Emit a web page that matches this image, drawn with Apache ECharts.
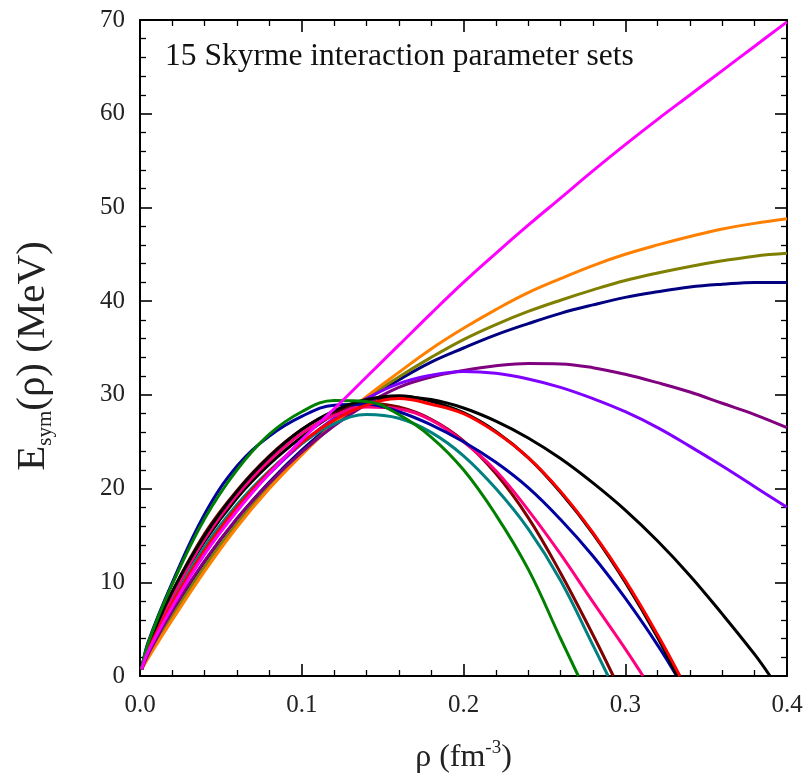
<!DOCTYPE html>
<html>
<head>
<meta charset="utf-8">
<script src="https://cdn.jsdelivr.net/npm/echarts@6/dist/echarts.min.js"></script>
<style>
html,body{margin:0;padding:0;background:#fff;overflow:hidden;}
#chart{width:807px;height:782px;}
</style>
</head>
<body>
<div id="chart"></div>
<script>
// density grid (fm^-3)
const rho = [0.001, 0.005, 0.02, 0.04, 0.06, 0.08, 0.10, 0.12, 0.14, 0.16, 0.18, 0.20, 0.22, 0.24, 0.26, 0.28, 0.30, 0.32, 0.34, 0.36, 0.38, 0.40];

// Esym values (MeV) on the rho grid; curves that fall to zero end at their zero crossing
const magenta = [0.7, 2.6, 7.4, 13.0, 17.6, 21.6, 25.2, 28.5, 31.9, 35.3, 38.7, 42.0, 45.1, 48.1, 51.0, 53.9, 56.7, 59.4, 62.0, 64.6, 67.2, 69.8];
const orange  = [0.7, 1.9, 6.0, 11.2, 15.9, 20.0, 23.6, 26.9, 29.8, 32.4, 34.9, 37.1, 39.1, 40.9, 42.4, 43.8, 45.0, 46.0, 46.9, 47.7, 48.3, 48.8];
const olive   = [0.7, 2.1, 6.4, 11.7, 16.3, 20.3, 23.8, 26.9, 29.6, 31.9, 34.0, 35.9, 37.5, 38.9, 40.1, 41.2, 42.2, 43.0, 43.7, 44.3, 44.8, 45.1];
const navy    = [0.7, 2.2, 6.8, 12.2, 16.8, 20.7, 24.1, 27.0, 29.5, 31.6, 33.5, 35.0, 36.4, 37.6, 38.7, 39.6, 40.4, 41.0, 41.5, 41.8, 42.0, 42.0];
const purple  = [0.7, 2.3, 7.0, 12.3, 16.8, 20.6, 23.9, 26.7, 29.0, 30.8, 31.9, 32.6, 33.1, 33.35, 33.3, 32.9, 32.2, 31.3, 30.3, 29.1, 27.9, 26.5];
const violet  = [0.7, 2.7, 7.8, 13.3, 17.9, 21.6, 24.8, 27.5, 29.6, 31.2, 32.1, 32.5, 32.3, 31.7, 30.8, 29.6, 28.2, 26.5, 24.5, 22.4, 20.2, 18.0];
const black1  = [0.7, 3.0, 8.6, 14.4, 19.0, 22.6, 25.5, 27.9, 29.3, 29.8, 29.5, 28.6, 27.2, 25.4, 23.2, 20.6, 17.7, 14.4, 10.7, 6.6, 2.3];
const black2  = [0.7, 3.2, 9.0, 15.0, 19.7, 23.4, 26.3, 28.3, 29.5, 29.9, 29.3, 28.1, 26.1, 23.3, 19.6, 15.2, 10.0, 4.1];
const red     = [0.7, 2.8, 7.8, 13.4, 18.0, 21.8, 24.9, 27.3, 28.9, 29.6, 29.0, 28.0, 26.0, 23.3, 19.7, 15.3, 10.2, 4.4];
const blue    = [0.7, 3.6, 10.0, 17.3, 22.4, 25.6, 27.7, 28.9, 29.0, 28.2, 26.8, 25.0, 22.8, 20.1, 16.7, 12.8, 8.3, 3.3];
const pink    = [0.7, 3.1, 8.5, 14.6, 19.3, 23.0, 25.9, 27.8, 28.7, 28.5, 27.3, 25.0, 21.9, 17.7, 13.0, 7.9, 2.9];
const maroon  = [0.7, 3.3, 9.0, 15.2, 19.8, 23.5, 26.3, 28.2, 29.1, 28.7, 27.4, 25.1, 21.6, 16.9, 11.0, 4.4];
const teal    = [0.7, 2.9, 8.0, 13.8, 18.3, 21.9, 24.8, 26.9, 27.9, 27.5, 26.0, 23.5, 20.0, 15.7, 10.2, 3.3];
const green   = [0.7, 3.5, 9.8, 16.8, 22.0, 25.8, 28.2, 29.4, 29.3, 27.9, 25.5, 22.0, 17.2, 11.4, 4.0];

// density where each falling curve reaches zero
const zeroAt = {black1: 0.3895, black2: 0.332, red: 0.3338, blue: 0.3318, pink: 0.311, maroon: 0.2926, teal: 0.2894, green: 0.271};

const curves = [
  ['black1', black1, '#000000'],
  ['navy', navy, '#000080'],
  ['olive', olive, '#808000'],
  ['orange', orange, '#FF8000'],
  ['purple', purple, '#800080'],
  ['violet', violet, '#8000FF'],
  ['teal', teal, '#008080'],
  ['maroon', maroon, '#800000'],
  ['pink', pink, '#FF0080'],
  ['blue', blue, '#0000A0'],
  ['black2', black2, '#000000'],
  ['red', red, '#FF0000'],
  ['green', green, '#008000'],
  ['magenta', magenta, '#FF00FF']
];

const FONT = '"Liberation Serif", "Times New Roman", serif';

const series = curves.map(([name, vals, color]) => {
  const pts = vals.map((v, i) => [rho[i], v]);
  if (zeroAt[name] !== undefined) pts.push([zeroAt[name], 0]);
  return {
    name: name, type: 'line', data: pts, smooth: 0.4, showSymbol: false, symbol: 'none',
    lineStyle: {color: color, width: 3}, itemStyle: {color: color},
    clip: true, animation: false, z: 3
  };
});

const axisCommon = {
  axisLine: {show: true, onZero: false, lineStyle: {color: '#000', width: 2}},
  axisTick: {show: true, inside: true, length: 12, lineStyle: {color: '#000', width: 1.6}},
  minorTick: {show: true, splitNumber: 5, length: 6, lineStyle: {color: '#000', width: 1.3}},
  splitLine: {show: false},
  minorSplitLine: {show: false}
};

const chart = echarts.init(document.getElementById('chart'), null, {renderer: 'canvas', width: 807, height: 782});
chart.setOption({
  animation: false,
  backgroundColor: '#fff',
  grid: {left: 140, right: 20, top: 20, bottom: 99, containLabel: false},
  xAxis: [
    Object.assign({
      type: 'value', min: 0, max: 0.4, interval: 0.1, position: 'bottom',
      axisLabel: {formatter: v => v.toFixed(1), fontFamily: FONT, fontSize: 25, color: '#222', margin: 17},
      name: 'ρ (fm{sup|-3})', nameLocation: 'middle', nameGap: 63,
      nameTextStyle: {fontFamily: FONT, fontSize: 32, color: '#222', lineHeight: 38,
        rich: {sup: {fontFamily: FONT, fontSize: 19, color: '#222', lineHeight: 20, verticalAlign: 'top'}}}
    }, axisCommon),
    Object.assign({
      type: 'value', min: 0, max: 0.4, interval: 0.1, position: 'top',
      axisLabel: {show: false}
    }, axisCommon)
  ],
  yAxis: [
    Object.assign({
      type: 'value', min: 0, max: 70, interval: 10, position: 'left',
      axisLabel: {fontFamily: FONT, fontSize: 25, color: '#222', margin: 15},
      name: 'E{sub|sym}(ρ) (MeV)', nameLocation: 'middle', nameGap: 84, nameRotate: 90,
      nameTextStyle: {fontFamily: FONT, fontSize: 41, color: '#222', lineHeight: 46, padding: [0, 16, 0, 0],
        rich: {sub: {fontFamily: FONT, fontSize: 21, color: '#222', lineHeight: 22, verticalAlign: 'bottom'}}}
    }, axisCommon),
    Object.assign({
      type: 'value', min: 0, max: 70, interval: 10, position: 'right',
      axisLabel: {show: false}
    }, axisCommon)
  ],
  graphic: [
    {type: 'text', left: 165, top: 41,
     style: {text: '15 Skyrme interaction parameter sets', font: '31.5px ' + FONT, fill: '#111'}}
  ],
  series: series
});
</script>
</body>
</html>
